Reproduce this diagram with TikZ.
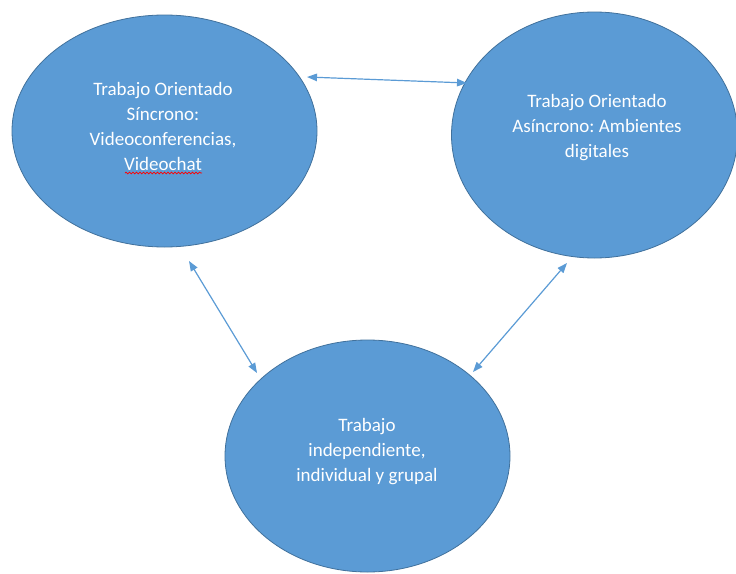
\documentclass[tikz,border=0pt]{standalone}
\usepackage{fontspec}
\setmainfont{Carlito}
\frenchspacing
\usetikzlibrary{shapes.geometric,arrows.meta,decorations.pathmorphing}
\definecolor{fillblue}{HTML}{5B9BD5}
\definecolor{edgeblue}{HTML}{41719C}
\tikzset{
  bubble/.style={ellipse, fill=fillblue, draw=edgeblue, line width=0.8pt, inner sep=0pt},
  bubbletext/.style={text=white, align=center, font=\fontsize{19}{25}\selectfont, inner sep=0pt},
  link/.style={draw=fillblue, line width=1.2pt, {Triangle[length=10pt,width=7.5pt]}-{Triangle[length=10pt,width=7.5pt]}},
  spell/.style={draw=red, line width=0.7pt, decorate, decoration={snake, amplitude=0.9pt, segment length=3.5pt}}
}
\begin{document}
\begin{tikzpicture}[x=1pt,y=-1pt]
\useasboundingbox (0,0) rectangle (736,573);
% ellipses
\node[bubble, minimum width=305pt, minimum height=232pt] (sync) at (164.5,131) {};
\node[bubble, minimum width=286pt, minimum height=246pt] (async) at (594.5,135) {};
\node[bubble, minimum width=285pt, minimum height=232pt] (indep) at (367.5,456) {};
% texts
\node[bubbletext] (synct) at (163,126) {Trabajo Orientado\\Síncrono:\\Videoconferencias,\\Videochat};
\node[bubbletext] (asynct) at (597,128) {Trabajo Orientado\\Asíncrono: Ambientes\\digitales};
\node[bubbletext] (indept) at (367,452) {Trabajo\\independiente,\\individual y grupal};
% spell-check squiggle under Videochat
\coordinate (sq1) at (125,173);
\coordinate (sq2) at (202,173);
\draw[spell] (sq1) -- (sq2);
% connector ends
\coordinate (a1) at (307,77);
\coordinate (a2) at (467,83);
\coordinate (b1) at (189,261);
\coordinate (b2) at (257,373);
\coordinate (c1) at (567,263);
\coordinate (c2) at (473,372);
\draw[link] (a1) -- (a2);
\draw[link] (b1) -- (b2);
\draw[link] (c1) -- (c2);
\end{tikzpicture}
\end{document}
